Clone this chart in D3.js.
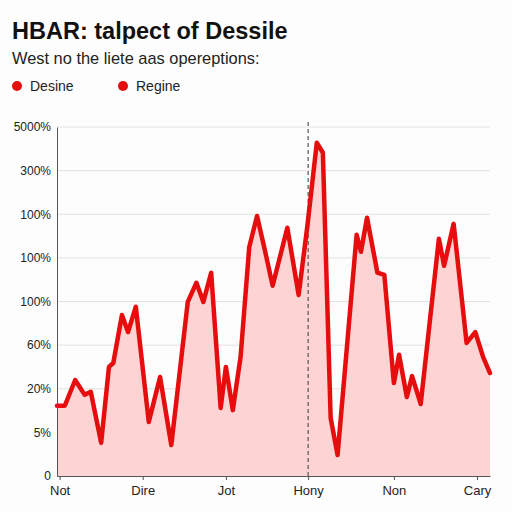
<!DOCTYPE html>
<html>
<head>
<meta charset="utf-8">
<script src="https://cdn.jsdelivr.net/npm/d3@7"></script>
<style>
  body { margin: 0; background: #fdfdfd; }
  svg { font-family: "Liberation Sans", Arial, sans-serif; }
</style>
</head>
<body>
<div id="chart"></div>
<script>
// x categories and their positions, y tick labels
var categories = ["Not", "Dire", "Jot", "Hony", "Non", "Cary"];
var categoryPos = [0.03, 0.99, 1.95, 2.90, 3.89, 4.85];
var yTickLabels = ["0", "5%", "20%", "60%", "100%", "100%", "100%", "300%", "5000%"];
var legendNames = ["Desine", "Regine"];

// series, position along the category axis and value
var seriesX = [0.00, 0.09, 0.21, 0.32, 0.39, 0.51, 0.60, 0.65, 0.75, 0.82,
               0.91, 1.06, 1.19, 1.32, 1.51, 1.61, 1.69, 1.78, 1.89, 1.95,
               2.03, 2.12, 2.22, 2.31, 2.40, 2.49, 2.66, 2.79, 2.89, 3.00,
               3.07, 3.16, 3.24, 3.46, 3.51, 3.58, 3.70, 3.78, 3.89, 3.95,
               4.04, 4.10, 4.20, 4.41, 4.47, 4.58, 4.73, 4.83, 4.92, 5.00];
var seriesY = [1.61, 1.61, 2.20, 1.86, 1.93, 0.76, 2.50, 2.59, 3.69, 3.30,
               3.88, 1.24, 2.27, 0.71, 3.99, 4.43, 3.99, 4.66, 1.56, 2.50,
               1.51, 2.73, 5.25, 5.96, 5.18, 4.36, 5.69, 4.15, 5.71, 7.64,
               7.41, 1.33, 0.48, 5.53, 5.14, 5.92, 4.66, 4.61, 2.13, 2.78,
               1.81, 2.29, 1.65, 5.44, 4.82, 5.78, 3.05, 3.30, 2.73, 2.36];
var markerX = 2.90;

var width = 512, height = 512;
var margin = { top: 127, right: 22, bottom: 36, left: 57 };

var svg = d3.select("#chart").append("svg")
    .attr("width", width)
    .attr("height", height);

var x = d3.scaleLinear().domain([0, 5]).range([margin.left, width - margin.right]);
var y = d3.scaleLinear().domain([0, 8]).range([height - margin.bottom, margin.top]);

var data = seriesX.map(function (d, i) { return { x: d, y: seriesY[i] }; });

// title + subtitle
svg.append("text")
    .attr("x", 12).attr("y", 39)
    .attr("font-size", 23.5).attr("font-weight", "bold").attr("fill", "#111")
    .text("HBAR: talpect of Dessile");
svg.append("text")
    .attr("x", 12).attr("y", 64)
    .attr("font-size", 16.4).attr("fill", "#222")
    .text("West no the liete aas opereptions:");

// legend
var legend = svg.append("g");
legendNames.forEach(function (name, i) {
    var lx = 17 + i * 106;
    legend.append("circle").attr("cx", lx).attr("cy", 86).attr("r", 5).attr("fill", "#e50d0d");
    legend.append("text").attr("x", lx + 13).attr("y", 91)
        .attr("font-size", 14).attr("fill", "#222").text(name);
});

// gridlines
svg.append("g")
    .selectAll("line")
    .data(d3.range(1, 9))
    .join("line")
    .attr("x1", margin.left).attr("x2", width - margin.right)
    .attr("y1", d => y(d)).attr("y2", d => y(d))
    .attr("stroke", "#e2e2e2").attr("stroke-width", 1);

// area + line
var area = d3.area().x(d => x(d.x)).y0(y(0)).y1(d => y(d.y));
var line = d3.line().x(d => x(d.x)).y(d => y(d.y));

svg.append("path").datum(data)
    .attr("d", area)
    .attr("fill", "#fdd3d3");

// dashed marker
svg.append("line")
    .attr("x1", x(markerX)).attr("x2", x(markerX))
    .attr("y1", 122).attr("y2", y(0))
    .attr("stroke", "#555").attr("stroke-width", 1.2)
    .attr("stroke-dasharray", "4,3");

svg.append("path").datum(data)
    .attr("d", line)
    .attr("fill", "none")
    .attr("stroke", "#e50d0d")
    .attr("stroke-width", 4.5)
    .attr("stroke-linejoin", "round")
    .attr("stroke-linecap", "round");

// y axis
var yAxis = svg.append("g")
    .attr("transform", "translate(" + margin.left + ",0)")
    .call(d3.axisLeft(y).tickValues(d3.range(0, 9)).tickSize(0).tickPadding(6)
        .tickFormat(d => yTickLabels[d]));
yAxis.select(".domain").attr("stroke", "#555");
yAxis.selectAll("text").attr("font-size", 12).attr("fill", "#222")
    .attr("font-family", "Liberation Sans, Arial, sans-serif");

// x axis
var xAxis = svg.append("g")
    .attr("transform", "translate(0," + y(0) + ")")
    .call(d3.axisBottom(x).tickValues(categoryPos).tickSizeInner(4).tickSizeOuter(0).tickPadding(6)
        .tickFormat((d, i) => categories[i]));
xAxis.select(".domain").attr("stroke", "#555");
xAxis.selectAll("line").attr("stroke", "#555");
xAxis.selectAll("text").attr("font-size", 13).attr("fill", "#222")
    .attr("font-family", "Liberation Sans, Arial, sans-serif");
</script>
</body>
</html>
